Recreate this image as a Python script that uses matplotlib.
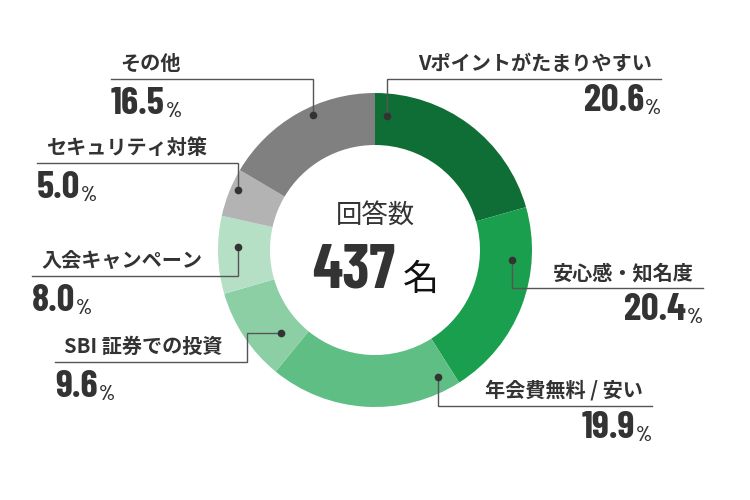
import matplotlib
matplotlib.use("Agg")
import matplotlib.pyplot as plt

# data
labels = ["Vポイントがたまりやすい", "安心感・知名度", "年会費無料 / 安い",
          "SBI 証券での投資", "入会キャンペーン", "セキュリティ対策", "その他"]
values = [20.6, 20.4, 19.9, 9.6, 8.0, 5.0, 16.5]
colors = ["#0f6e35", "#1a9f4e", "#5ebe84", "#8ccfa5", "#b6e0c6", "#b3b3b3", "#808080"]
total_label = "回答数"
total_n = 437

# layout (pixel coords, y measured from the top)
CX, CY, R_OUT, RING = 375, 250, 157, 52
leaders = [
    [(387, 116), (387, 79), (661, 79)],
    [(512, 260), (512, 288), (703, 288)],
    [(438, 377), (438, 406), (652, 406)],
    [(281, 333), (247, 333), (247, 362), (55, 362)],
    [(238, 247), (238, 276), (32, 276)],
    [(238, 190), (238, 163), (37, 163)],
    [(313, 115), (313, 79), (111, 79)],
]
sides = ["right", "right", "right", "left", "left", "left", "left"]

JP = ["Noto Sans CJK JP", "DejaVu Sans"]
NUM = ["Barlow Condensed", "DejaVu Sans"]
TXT = "#333333"


def Y(y):
    return 500 - y


fig = plt.figure(figsize=(7.5, 5), dpi=100)
ax = fig.add_axes([0, 0, 1, 1])

ax.pie(values, colors=colors, startangle=90, counterclock=False,
       radius=R_OUT, center=(CX, Y(CY)),
       wedgeprops=dict(width=RING, edgecolor="none", linewidth=0))

for lab, val, pts, side in zip(labels, values, leaders, sides):
    xs = [p[0] for p in pts]
    ys = [Y(p[1]) for p in pts]
    ax.plot(xs, ys, color="#555555", lw=1.0, solid_joinstyle="miter", zorder=3)
    ax.plot(xs[0], ys[0], "o", color="#333333", ms=4.5, zorder=4)
    end_x, line_y = pts[-1]
    val_s = f"{val:.1f}"
    if side == "right":
        ax.text(end_x - 9, Y(line_y - 9), lab, ha="right", va="baseline",
                fontsize=14.5, fontweight="bold", color=TXT, family=JP)
        pct = ax.text(end_x, Y(line_y + 35), "%", ha="right", va="baseline",
                      fontsize=15, fontweight="semibold", color=TXT, family=NUM)
        ax.annotate(val_s, xy=(0, 0), xycoords=pct, ha="right", va="bottom",
                    xytext=(-1, 0), textcoords="offset pixels",
                    fontsize=28, fontweight="bold", color=TXT, family=NUM)
    else:
        ax.text(end_x + 9, Y(line_y - 9), lab, ha="left", va="baseline",
                fontsize=14.5, fontweight="bold", color=TXT, family=JP)
        num = ax.text(end_x, Y(line_y + 35), val_s, ha="left", va="baseline",
                      fontsize=28, fontweight="bold", color=TXT, family=NUM)
        ax.annotate("%", xy=(1, 0), xycoords=num, ha="left", va="bottom",
                    xytext=(1, 0), textcoords="offset pixels",
                    fontsize=15, fontweight="semibold", color=TXT, family=NUM)

# centre text
ax.text(CX, Y(215), total_label, ha="center", va="center",
        fontsize=19, color=TXT, family=JP)
n_txt = ax.text(CX - 21, Y(287), str(total_n), ha="center", va="baseline",
                fontsize=45, fontweight="bold", color=TXT, family=NUM)
ax.annotate("名", xy=(1, 0), xycoords=n_txt, ha="left", va="bottom",
            xytext=(7, 0), textcoords="offset pixels",
            fontsize=26, color="#111111", family=JP)

ax.set_xlim(0, 750)
ax.set_ylim(0, 500)
ax.set_aspect("equal")
ax.axis("off")

fig.savefig("out.png", dpi=100, facecolor="white")
